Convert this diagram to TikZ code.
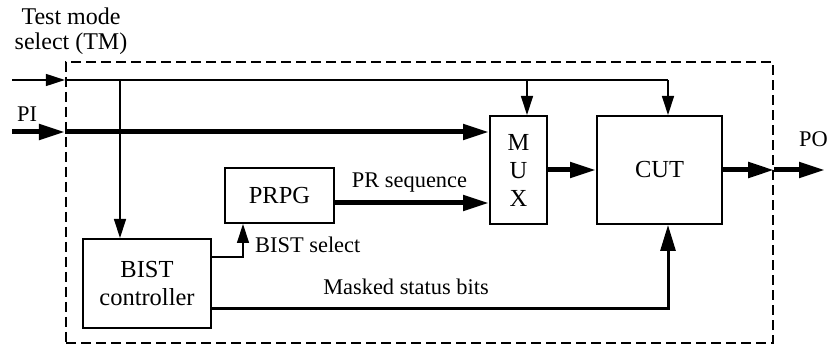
\documentclass[tikz,border=0pt]{standalone}
\usepackage{fontspec}
\setmainfont{Liberation Serif}
\usetikzlibrary{arrows.meta}
\begin{document}
\begin{tikzpicture}[x=1pt,y=-1pt,
  blk/.style={draw,line width=2pt,inner sep=0pt,align=center,font=\fontsize{24.5}{28}\selectfont},
  lbl/.style={inner sep=0pt,font=\fontsize{22.4}{26}\selectfont},
  tmlbl/.style={inner sep=0pt,font=\fontsize{24}{26}\selectfont},
  thinline/.style={line width=1.3pt},
  thickline/.style={line width=5pt},
  medline/.style={line width=3pt},
  thinarrow/.style={-{Triangle[length=19pt,width=12pt]}},
  thickarrow/.style={-{Triangle[length=26pt,width=15pt]}},
  framebox/.style={draw,line width=2.2pt,dash pattern=on 10pt off 5pt,inner sep=0pt}]
\useasboundingbox (0,0) rectangle (830,347);

% frame
\node[framebox,minimum width=707pt,minimum height=281pt] (frame) at (419.5,202.5) {};

% blocks
\node[blk,minimum width=128pt,minimum height=89pt] (bist) at (147,283.5) {BIST\\controller};
\node[blk,minimum width=109pt,minimum height=55pt] (prpg) at (279.5,195.5) {PRPG};
\node[blk,minimum width=57pt,minimum height=108pt] (mux) at (518.5,170) {M\\U\\X};
\node[blk,minimum width=125pt,minimum height=108pt] (cut) at (659.5,170) {CUT};

% coordinates
\coordinate (tmL) at (12,80);
\coordinate (tmR) at (668,80);
\coordinate (tmB) at (120,80);
\coordinate (muxT) at (527,80);
\coordinate (piL) at (12,132);
\coordinate (prY) at (400,203);
\coordinate (bsel) at (243,257);
\coordinate (msk) at (668,309);
\coordinate (poOut) at (825,170);

% test mode line
\draw[thinline,thinarrow] (tmL) -- (frame.west |- tmL);
\draw[thinline] (frame.west |- tmL) -- (tmR);
\draw[thinline,thinarrow] (tmB) -- (tmB |- bist.north);
\draw[thinline,thinarrow] (muxT) -- (muxT |- mux.north);
\draw[thinline,thinarrow] (tmR) -- (tmR |- cut.north);

% PI
\draw[thickline,thickarrow] (piL) -- (frame.west |- piL);
\draw[thickline,thickarrow] (frame.west |- piL) -- (mux.west |- piL);

% PR sequence
\draw[thickline,thickarrow] (prpg.east |- prY) -- (mux.west |- prY);

% MUX to CUT
\draw[thickline,thickarrow] (mux.east) -- (cut.west);

% CUT to PO
\draw[thickline,thickarrow] (cut.east) -- (frame.east |- cut.east);
\draw[thickline,thickarrow] (frame.east |- cut.east) -- (poOut);

% BIST select
\draw[thinline,thinarrow] (bist.east |- bsel) -- (bsel) -- (bsel |- prpg.south);

% Masked status bits
\draw[medline,thickarrow] (bist.east |- msk) -- (msk) -- (msk |- cut.south);

% labels
\node[tmlbl,anchor=base] (tm1) at (71,25) {Test mode};
\node[tmlbl,anchor=base] (tm2) at (71,50) {select (TM)};
\node[lbl,anchor=base west] (pi) at (17,122) {PI};
\node[lbl,anchor=base east] (po) at (828,147) {PO};
\node[lbl,anchor=base] (prs) at (409.5,188) {PR sequence};
\node[lbl,anchor=base west] (bss) at (255,253) {BIST select};
\node[lbl,anchor=base] (msb) at (406,295) {Masked status bits};
\end{tikzpicture}
\end{document}
